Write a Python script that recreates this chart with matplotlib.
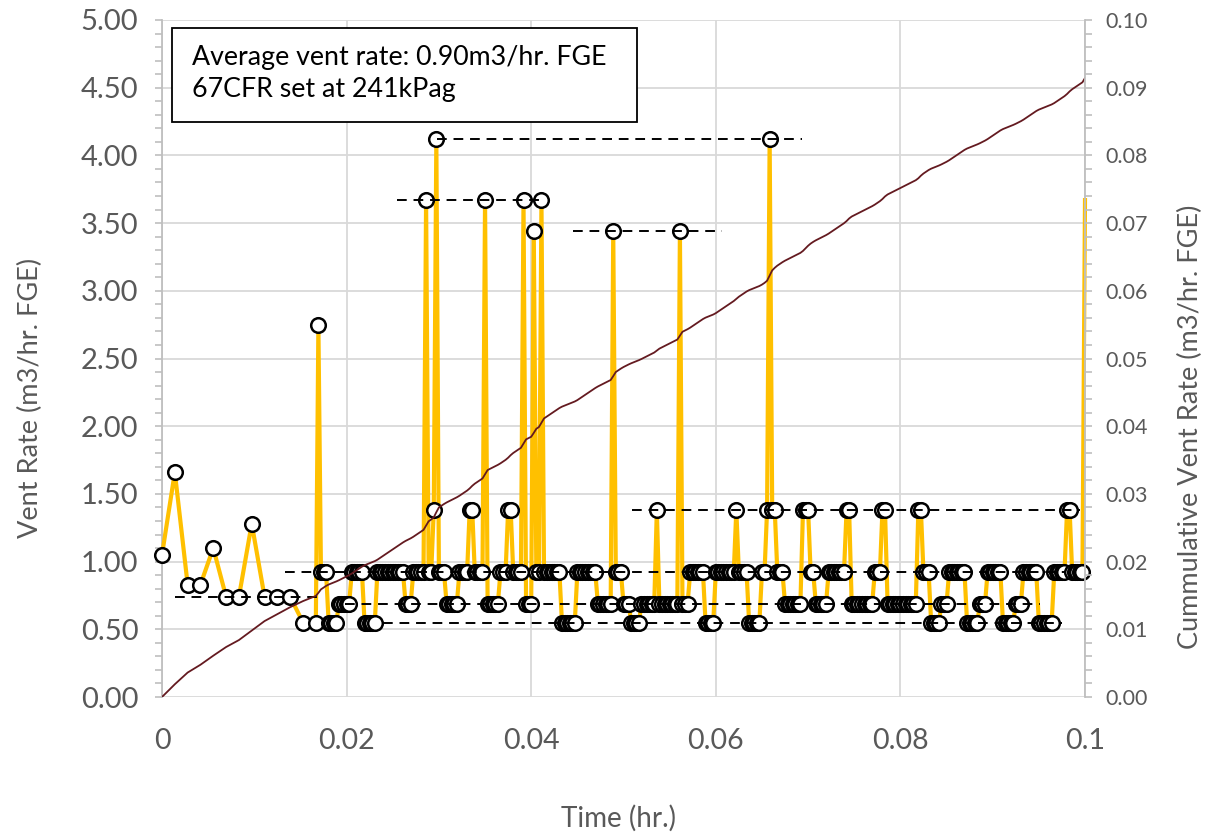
import numpy as np
import matplotlib.pyplot as plt
from matplotlib.ticker import MultipleLocator, FormatStrFormatter, FuncFormatter
from matplotlib.patches import Rectangle

plt.rcParams['font.family'] = ['Lato', 'DejaVu Sans']

# first minute of the log, one reading every 5 s (m3/hr FGE)
early_step_s = 5
early_vent = [1.05, 1.66, 0.83, 0.83, 1.10, 0.74, 0.74, 1.28, 0.74, 0.74, 0.74, 0.55, 0.55]

# rest of the log, one reading per second, kept as runs of equal readings
fast_step_s = 1
run_level = [2.75, 0.92, 0.55, 0.69, 0.92, 0.55, 0.92, 0.69, 0.92, 3.67,
             0.92, 1.38, 4.12, 0.92, 0.69, 0.92, 1.38, 0.92, 3.67, 0.69,
             0.92, 1.38, 0.92, 3.67, 0.69, 3.44, 0.92, 3.67, 0.92, 0.55,
             0.92, 0.69, 3.44, 0.92, 0.69, 0.55, 0.69, 1.38, 0.69, 3.44,
             0.69, 0.92, 0.55, 0.92, 1.38, 0.92, 0.55, 0.92, 1.38, 4.12,
             1.38, 0.92, 0.69, 1.38, 0.92, 0.69, 0.92, 1.38, 0.69, 0.92,
             1.38, 0.69, 1.38, 0.92, 0.55, 0.69, 0.92, 0.55, 0.69, 0.92,
             0.55, 0.69, 0.92, 0.55, 0.92, 1.38, 0.92, 3.67]
run_count = [1, 3, 4, 5, 5, 5, 11, 3, 5, 1,
             2, 1, 1, 3, 5, 4, 2, 4, 1, 5,
             3, 2, 4, 1, 3, 1, 2, 1, 7, 6,
             8, 6, 1, 3, 3, 4, 6, 1, 8, 1,
             3, 6, 4, 8, 1, 4, 5, 2, 1, 1,
             2, 3, 7, 3, 2, 5, 7, 2, 9, 3,
             2, 12, 2, 3, 4, 3, 7, 5, 3, 6,
             5, 3, 6, 6, 5, 2, 5, 1]

# relief valve pressure steps: level, start and end time (hr)
step_level = [4.12, 3.67, 3.44, 1.38, 0.92, 0.69, 0.55, 0.74]
step_start = [0.0298, 0.0255, 0.0445, 0.0509, 0.0133, 0.0198, 0.0239, 0.0014]
step_end = [0.0693, 0.0415, 0.0607, 0.0995, 0.0978, 0.0951, 0.0975, 0.0173]

note = "Average vent rate: 0.90m3/hr. FGE\n67CFR set at 241kPag"

# build the time series
t_early = np.arange(len(early_vent)) * early_step_s / 3600.0
fast_vent = np.repeat(run_level, run_count)
t_fast = t_early[-1] + np.arange(1, len(fast_vent) + 1) * fast_step_s / 3600.0
t = np.concatenate([t_early, t_fast])
vent = np.concatenate([early_vent, fast_vent])

# cumulative volume vented (trapezoid rule)
cum = np.concatenate([[0.0], np.cumsum(np.diff(t) * (vent[1:] + vent[:-1]) / 2)])

gray = "#595959"
grid = "#D9D9D9"
axis_col = "#BFBFBF"

fig = plt.figure(figsize=(12.09, 8.33), dpi=100)
ax = fig.add_axes([162 / 1209, 136 / 833, 923 / 1209, 677 / 833])
ax2 = ax.twinx()

ax.plot(t, vent, color="#FFC000", lw=3.0, zorder=3,
        marker="o", markersize=10.5, markerfacecolor="white",
        markeredgecolor="black", markeredgewidth=1.8,
        markevery=slice(0, len(t) - 1), clip_on=False)

for lvl, x0, x1 in zip(step_level, step_start, step_end):
    ax.plot([x0, x1], [lvl, lvl], color="black", lw=1.4,
            linestyle=(0, (5, 3.5)), zorder=5)

ax2.plot(t, cum, color="#641A20", lw=1.3)

ax.set_xlim(0, 0.1)
ax.set_ylim(0, 5)
ax2.set_ylim(0, 0.1)

ax.xaxis.set_major_locator(MultipleLocator(0.02))
ax.xaxis.set_major_formatter(FuncFormatter(lambda v, p: f"{v:g}"))
ax.yaxis.set_major_locator(MultipleLocator(0.5))
ax.yaxis.set_minor_locator(MultipleLocator(0.1))
ax.yaxis.set_major_formatter(FormatStrFormatter("%.2f"))
ax2.yaxis.set_major_locator(MultipleLocator(0.01))
ax2.yaxis.set_minor_locator(MultipleLocator(0.002))
ax2.yaxis.set_major_formatter(FormatStrFormatter("%.2f"))

ax.grid(True, color=grid, lw=1.3, zorder=0)
ax.set_axisbelow(True)

for a in (ax, ax2):
    for s in ("top", "bottom"):
        a.spines[s].set_visible(False)
ax.spines["right"].set_visible(False)
ax2.spines["left"].set_visible(False)
ax.spines["left"].set_color(axis_col)
ax2.spines["right"].set_color(axis_col)
ax.spines["left"].set_linewidth(1.3)
ax2.spines["right"].set_linewidth(1.3)

ax.tick_params(axis="x", length=0, pad=22, labelsize=20.5, labelcolor=gray)
ax.tick_params(axis="y", which="both", length=5, width=1.2, color=axis_col,
               pad=12, labelsize=21, labelcolor=gray)
ax2.tick_params(axis="y", which="both", length=5, width=1.2, color=axis_col,
                pad=10, labelsize=15.5, labelcolor=gray)

# note box in the upper left
ax.add_patch(Rectangle((10 / 923, 575 / 677), 465 / 923, 94 / 677,
                       transform=ax.transAxes, facecolor="white",
                       edgecolor="black", lw=1.3, zorder=6))
ax.text(30 / 923, 623 / 677, note, transform=ax.transAxes, fontsize=19.3,
        va="center", ha="left", linespacing=1.35, zorder=7)

fig.text(30 / 1209, 1 - 398 / 833, "Vent Rate (m3/hr. FGE)", rotation=90,
         ha="center", va="center", fontsize=19.5, color=gray)
fig.text(1190 / 1209, 1 - 427 / 833, "Cummulative Vent Rate (m3/hr. FGE)",
         rotation=90, ha="center", va="center", fontsize=19.5, color=gray)
fig.text(618 / 1209, 1 - 818 / 833, "Time (hr.)", ha="center", va="center",
         fontsize=20, color=gray)

fig.savefig("out.png", dpi=100)
